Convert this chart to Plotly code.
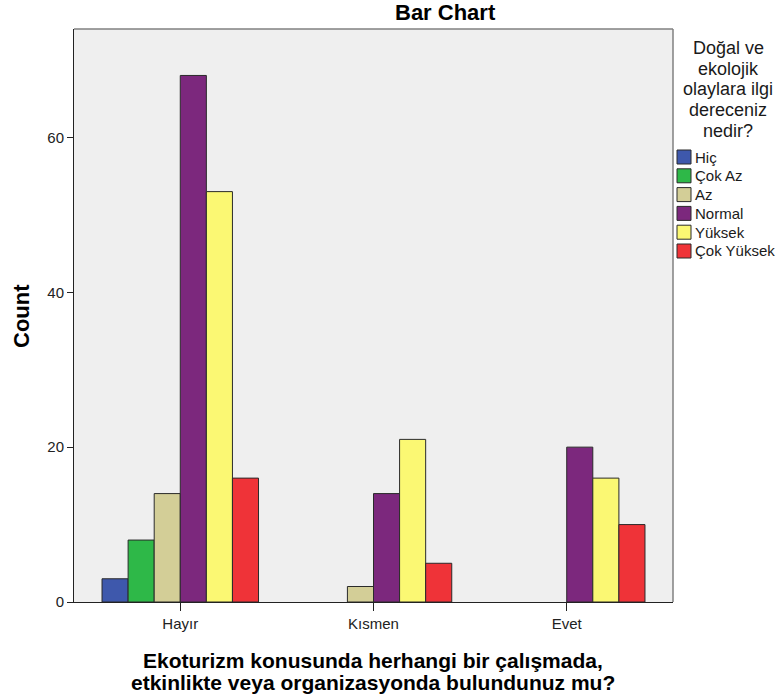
import plotly.graph_objects as go

categories = ["Hayır", "Kısmen", "Evet"]
series_names = ["Hiç", "Çok Az", "Az", "Normal", "Yüksek", "Çok Yüksek"]
hic = [3, 0, 0]
cok_az = [8, 0, 0]
az = [14, 2, 0]
normal = [68, 14, 20]
yuksek = [53, 21, 16]
cok_yuksek = [16, 5, 10]
colors = ["#3E58AC", "#2EB848", "#D3CE97", "#7C287D", "#FBF873", "#EF3338"]
y_ticks = [0, 20, 40, 60]
legend_title_lines = ["Doğal ve", "ekolojik", "olaylara ilgi", "dereceniz", "nedir?"]
x_title_lines = ["Ekoturizm konusunda herhangi bir çalışmada,",
                 "etkinlikte veya organizasyonda bulundunuz mu?"]

series_values = [hic, cok_az, az, normal, yuksek, cok_yuksek]

FONT = "Arial, Liberation Sans, sans-serif"
W, H = 779, 699
L, R, T, B = 74, 673, 29, 602  # plot area in window pixels


def px(xp):
    return (xp - L) / (R - L)


def py(yp):
    return (B - yp) / (B - T)


fig = go.Figure()
for name, vals, col in zip(series_names, series_values, colors):
    fig.add_trace(go.Bar(
        x=categories, y=[v if v else None for v in vals], name=name,
        marker=dict(color=col, line=dict(color="#2a2a2a", width=1)),
        showlegend=False,
    ))

annotations = []
shapes = [
    dict(type="line", xref="paper", yref="paper", x0=0, x1=1, y0=1, y1=1,
         line=dict(color="#808080", width=1.5)),
    dict(type="line", xref="paper", yref="paper", x0=1, x1=1, y0=0, y1=1,
         line=dict(color="#808080", width=1.5)),
]

# chart title
annotations.append(dict(text="<b>Bar Chart</b>", xref="paper", yref="paper",
                        x=px(445), y=py(12), showarrow=False,
                        xanchor="center", yanchor="middle",
                        font=dict(family=FONT, size=22, color="black")))
# x axis title (two lines)
for i, line in enumerate(x_title_lines):
    annotations.append(dict(text="<b>" + line + "</b>", xref="paper", yref="paper",
                            x=px(373), y=py(660 + 22 * i), showarrow=False,
                            xanchor="center", yanchor="middle",
                            font=dict(family=FONT, size=21, color="black")))
# y axis title
annotations.append(dict(text="<b>Count</b>", xref="paper", yref="paper",
                        x=px(21), y=py(316), showarrow=False, textangle=-90,
                        xanchor="center", yanchor="middle",
                        font=dict(family=FONT, size=22, color="black")))
# legend title
for i, line in enumerate(legend_title_lines):
    annotations.append(dict(text=line, xref="paper", yref="paper",
                            x=px(728), y=py(48 + 20.7 * i), showarrow=False,
                            xanchor="center", yanchor="middle",
                            font=dict(family=FONT, size=18, color="#1a1a1a")))
# legend entries
for i, (name, col) in enumerate(zip(series_names, colors)):
    yc = 157 + 18.8 * i
    shapes.append(dict(type="rect", xref="paper", yref="paper",
                       x0=px(677), x1=px(691), y0=py(yc - 7), y1=py(yc + 7),
                       fillcolor=col, line=dict(color="#2a2a2a", width=1)))
    annotations.append(dict(text=name, xref="paper", yref="paper",
                            x=px(693), y=py(yc), showarrow=False,
                            xanchor="left", yanchor="middle",
                            font=dict(family=FONT, size=15, color="#1a1a1a")))

fig.update_layout(
    width=W, height=H,
    barmode="group", bargap=0.19, bargroupgap=0,
    paper_bgcolor="white", plot_bgcolor="#EFEFEF",
    margin=dict(l=L, r=W - R, t=T, b=H - B, autoexpand=False),
    font=dict(family=FONT, size=15, color="#222"),
    showlegend=False,
    xaxis=dict(
        range=[-0.55, 2.55], showgrid=False, zeroline=False, automargin=False,
        showline=True, linecolor="#222", linewidth=1,
        ticks="outside", ticklen=8, tickcolor="#222",
        tickfont=dict(family=FONT, size=15, color="#222"),
    ),
    yaxis=dict(
        range=[0, 74], tickvals=y_ticks, showgrid=False, zeroline=False, automargin=False,
        showline=True, linecolor="#222", linewidth=1,
        ticks="outside", ticklen=6, tickcolor="#222",
        tickfont=dict(family=FONT, size=15, color="#222"),
    ),
    annotations=annotations,
    shapes=shapes,
)

fig.write_html(
    "out.html",
    config={"displayModeBar": False},
    post_script="document.body.style.margin='0';document.body.style.overflow='hidden';",
)
